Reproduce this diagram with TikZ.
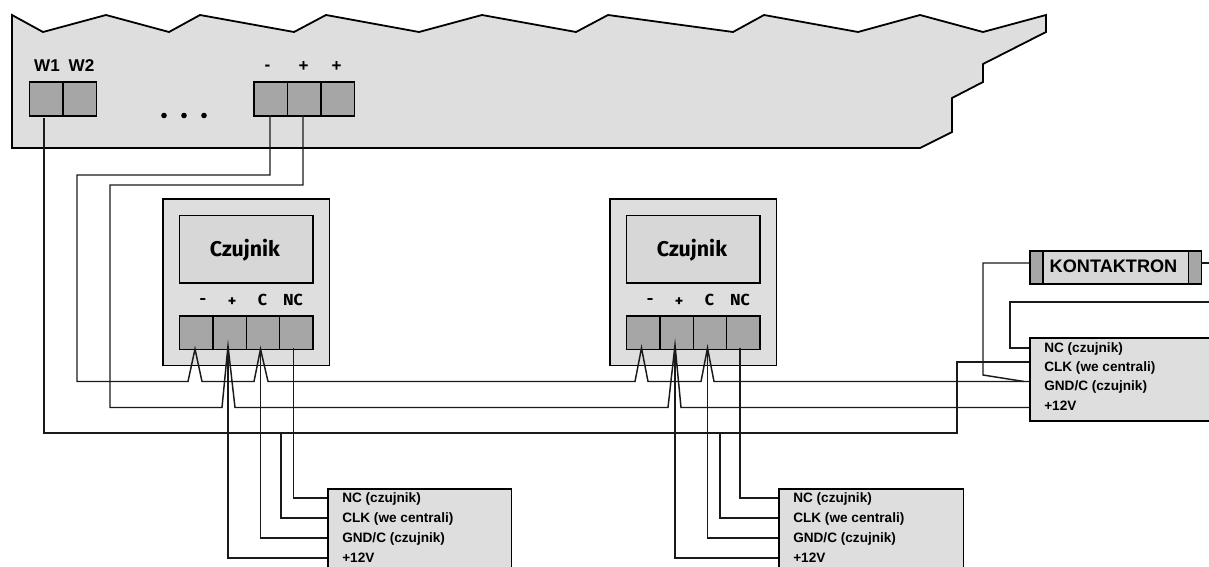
\documentclass[tikz,border=0pt]{standalone}
\usepackage{fontspec}
\setmainfont{Liberation Sans}
\newfontfamily\czfont{Fira Sans}
\definecolor{body}{HTML}{DEDEDE}
\definecolor{term}{HTML}{A6A6A6}
\definecolor{wirec}{HTML}{1A1A1A}
\tikzset{
  panel/.style={draw=black,fill=body,line width=1.35pt,line join=miter},
  termbox/.style={draw=black,fill=term,line width=1.35pt,minimum width=33.5*0.75pt,minimum height=33.5*0.75pt,inner sep=0pt,anchor=north west},
  wire/.style={draw=wirec,line width=1.1pt,line join=miter},
  lab/.style={font=\bfseries\fontsize{10.2}{11}\selectfont,inner sep=0pt,anchor=base west},
  toplab/.style={font=\bfseries\fontsize{12.8}{14}\selectfont,inner sep=0pt,anchor=center},
  czl/.style={font=\czfont\bfseries\fontsize{12}{14}\selectfont,inner sep=0pt,anchor=center},
  dispbox/.style={draw=black,fill=body!97!black,line width=1.35pt,minimum width=133.5*0.75pt,minimum height=67.5*0.75pt,inner sep=0pt,anchor=north west},
  czt/.style={font=\czfont\bfseries\fontsize{16}{18}\selectfont,inner sep=0pt,anchor=center}
}
\begin{document}
\begin{tikzpicture}[x=0.75pt,y=-0.75pt]
\useasboundingbox (0,0) rectangle (1209,567);
% main panel
\draw[panel] (12,15)--(43,32)--(106,15)--(169,32)--(200,15)--(294,32)--(326,15)--(419,32)--(482,15)--(576,32)--(608,15)--(733,32)--(764,15)--(858,32)--(920,15)--(983,32)--(1046,15)--(1046,32)--(983,64)--(983,82)--(952,98)--(952,132)--(920,148)--(12,148)--cycle;
\node[termbox] (w1) at (28.5,81.5) {};
\node[termbox] (w2) at (62,81.5) {};
\node[termbox] (pm) at (253,81.5) {};
\node[termbox] (pa) at (286.5,81.5) {};
\node[termbox] (pb) at (320,81.5) {};
\node[toplab] at (47,66) {W1};
\node[toplab] at (81.5,66) {W2};
\node[toplab] at (267.5,68) {-};
\node[toplab] at (303.5,66) {+};
\node[toplab] at (336.5,66) {+};
\foreach \x in {164,184,204} \fill (\x,115.5) circle (2.8);
% sensors
\foreach \dx/\n in {0/a,447/b}{
  \begin{scope}[shift={(\dx*0.75pt,0)}]
  \node[panel,minimum width=166.5*0.75pt,minimum height=166.5*0.75pt,inner sep=0pt,anchor=north west] (s\n) at (162,198) {};
  \node[dispbox] (d\n) at (178.5,214.5) {};
  \node[czt] (c\n) at (245,250) {Czujnik};
  \node[termbox] (t1\n) at (178.5,315) {};
  \node[termbox] (t2\n) at (212,315) {};
  \node[termbox] (t3\n) at (245.5,315) {};
  \node[termbox] (t4\n) at (278.5,315) {};
  \node[czl] at (203,302) {-};
  \node[czl] at (232,302) {+};
  \node[czl] at (262.5,299.5) {C};
  \node[czl] at (293,299.5) {NC};
  \end{scope}
}
% lower boxes
\node[panel,minimum width=183.5*0.75pt,minimum height=90*0.75pt,inner sep=0pt,anchor=north west] (ba) at (327,488) {};
\node[panel,minimum width=184.5*0.75pt,minimum height=90*0.75pt,inner sep=0pt,anchor=north west] (bb) at (778,488) {};
\node[panel,minimum width=200*0.75pt,minimum height=83*0.75pt,inner sep=0pt,anchor=north west] (bc) at (1029,337) {};
\foreach \x/\y/\s in {342/502.5/20,793/502.5/20,1044/352.5/19.2}{
  \node[lab] at (\x,\y) {NC (czujnik)};
  \node[lab] at (\x,\y+\s) {CLK (we centrali)};
  \node[lab] at (\x,\y+2*\s) {GND/C (czujnik)};
  \node[lab] at (\x,\y+3*\s) {+12V};
}
% kontaktron
\coordinate (kl) at (1029,263);
\coordinate (kr) at (1200.5,263);
\node[draw=black,fill=body!97!black,line width=1.35pt,minimum width=171.5*0.75pt,minimum height=33*0.75pt,inner sep=0pt,anchor=north west] (kt) at (1029,250) {};
\node[draw=black,fill=term,line width=1.35pt,minimum width=13*0.75pt,minimum height=33*0.75pt,inner sep=0pt,anchor=north west] (k1) at (1029,250) {};
\node[draw=black,fill=term,line width=1.35pt,minimum width=13*0.75pt,minimum height=33*0.75pt,inner sep=0pt,anchor=north west] (k2) at (1187.5,250) {};
\node[font=\bfseries\fontsize{13.6}{15}\selectfont,inner sep=0pt] (ktext) at (1113.5,266) {KONTAKTRON};
% wiring
\coordinate (e1) at (1209,302);
\coordinate (e2) at (1209,263);
\draw[wire] (270,115)--(270,175)--(77,175)--(77,381.5)--(188,381.5)--(195,349)--(202,381.5)--(254,381.5)--(260.5,349)--(268,381.5)--(635,381.5)--(641.5,348)--(648,381.5)--(701,381.5)--(707.5,348)--(714,381.5)--(1029,381.5);
\draw[wire] (303,115)--(303,185)--(110,185)--(110,407.5)--(222,407.5)--(228,346)--(235,407.5)--(668,407.5)--(675,345)--(681,407.5)--(1029,407.5);
\draw[wire] (44,118)--(44,433)--(957,433)--(957,362)--(1029,362);
\draw[wire] (281,433)--(281,518)--(327,518);
\draw[wire] (720,433)--(720,518)--(778,518);
\draw[wire] (293.5,348)--(293.5,498)--(327,498);
\draw[wire] (740,348)--(740,498)--(778,498);
\draw[wire] (260.5,348)--(260.5,538)--(327,538);
\draw[wire] (707.5,348)--(707.5,538)--(778,538);
\draw[wire] (228,346)--(228,558)--(327,558);
\draw[wire] (675,345)--(675,558)--(778,558);
\draw[wire] (1029,348)--(1010,348)--(1010,302)--(e1);
\draw[wire] (kl)--(983,263)--(983,375)--(1024,381.5);
\draw[wire] (kr)--(e2);
\end{tikzpicture}
\end{document}
